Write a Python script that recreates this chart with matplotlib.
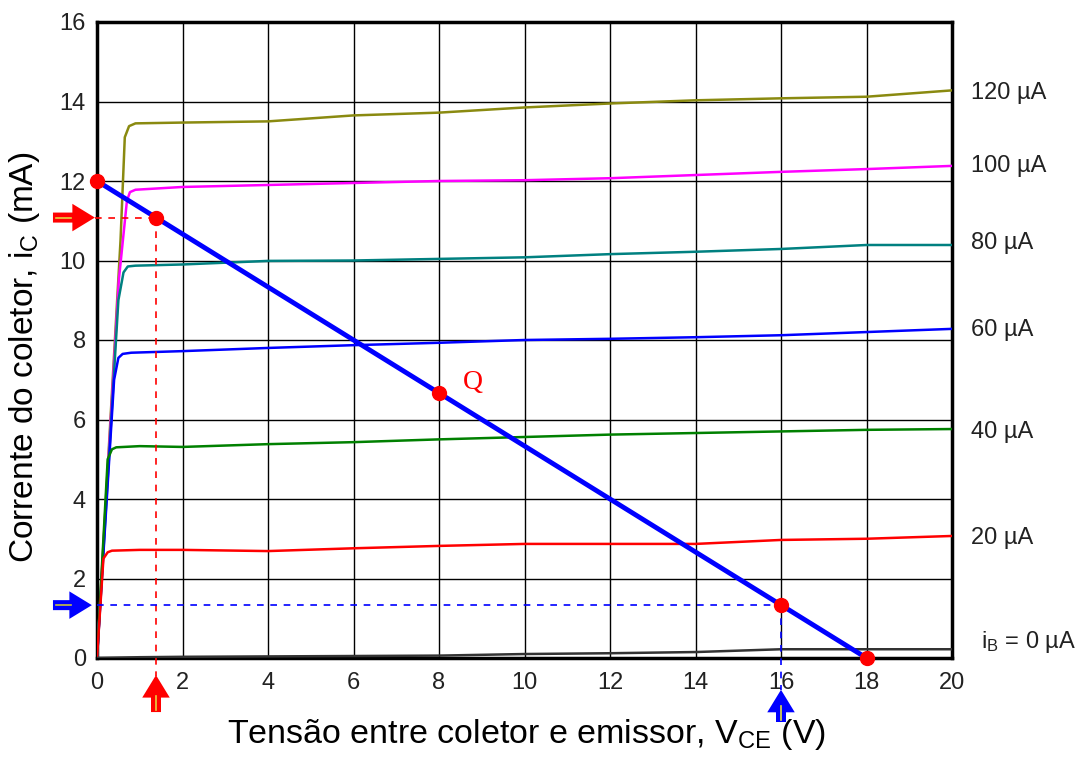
import matplotlib
matplotlib.use("Agg")
import matplotlib.pyplot as plt

plt.rcParams['font.family'] = ['Liberation Sans', 'DejaVu Sans']

# ---- data ----
vce_120 = [0, 0.55, 0.65, 0.75, 0.9, 2, 4, 6, 8, 10, 12, 14, 16, 18, 20]
ic_120 = [0, 10.5, 13.1, 13.38, 13.45, 13.47, 13.5, 13.65, 13.72, 13.85, 13.95, 14.03, 14.08, 14.12, 14.28]
vce_100 = [0, 0.51, 0.7, 0.77, 0.9, 2, 4, 6, 8, 10, 12, 14, 16, 18, 20]
ic_100 = [0, 9.5, 11.5, 11.72, 11.78, 11.85, 11.9, 11.95, 12.0, 12.02, 12.07, 12.15, 12.23, 12.3, 12.38]
vce_80 = [0, 0.5, 0.62, 0.72, 0.9, 2, 4, 6, 8, 10, 12, 14, 16, 18, 20]
ic_80 = [0, 9.0, 9.7, 9.85, 9.87, 9.9, 9.99, 10.0, 10.04, 10.08, 10.16, 10.22, 10.29, 10.39, 10.39]
vce_60 = [0, 0.4, 0.5, 0.6, 0.8, 2, 4, 6, 8, 10, 12, 14, 16, 18, 20]
ic_60 = [0, 7.0, 7.55, 7.65, 7.68, 7.72, 7.8, 7.87, 7.93, 8.0, 8.03, 8.07, 8.12, 8.2, 8.28]
vce_40 = [0, 0.25, 0.35, 0.45, 1, 2, 4, 6, 8, 10, 12, 14, 16, 18, 20]
ic_40 = [0, 5.0, 5.25, 5.3, 5.33, 5.31, 5.38, 5.43, 5.5, 5.56, 5.62, 5.66, 5.7, 5.74, 5.76]
vce_20 = [0, 0.15, 0.25, 0.35, 1, 2, 4, 6, 8, 10, 12, 14, 16, 18, 20]
ic_20 = [0, 2.5, 2.66, 2.7, 2.72, 2.72, 2.69, 2.76, 2.82, 2.87, 2.87, 2.87, 2.97, 3.0, 3.07]
vce_0 = [0, 1, 2, 4, 6, 8, 10, 12, 14, 16, 18, 20]
ic_0 = [0, 0.02, 0.03, 0.04, 0.05, 0.06, 0.1, 0.12, 0.15, 0.22, 0.22, 0.22]

curve_labels = ['120 µA', '100 µA', '80 µA', '60 µA', '40 µA', '20 µA', '$\\mathregular{i_B}$ = 0 µA']
label_y = [14.21, 12.38, 10.44, 8.25, 5.69, 3.02, 0.40]
label_x = [20.45, 20.45, 20.45, 20.45, 20.45, 20.45, 20.67]

# load line
load_v = [0, 18]
load_i = [12, 0]
pts_v = [0, 1.38, 8, 16, 18]
pts_i = [12, 11.08, 6.67, 1.33, 0]
q_point = (8, 6.67)

xticks = [0, 2, 4, 6, 8, 10, 12, 14, 16, 18, 20]
yticks = [0, 2, 4, 6, 8, 10, 12, 14, 16]

fig = plt.figure(figsize=(10.85, 7.6), dpi=100)
ax = fig.add_axes([97/1085, 1-658/760, (952-97)/1085, (658-22)/760])
ax.set_xlim(0, 20)
ax.set_ylim(0, 16)
ax.set_xticks(xticks)
ax.set_yticks(yticks)
ax.grid(True, color='black', lw=1.0)
ax.set_axisbelow(True)
for s in ax.spines.values():
    s.set_linewidth(2.5)
ax.tick_params(length=0, labelsize=17, pad=10, colors='#222222')
ax.tick_params(axis='y', pad=8)

colors = ['#8a8a10', '#ff00ff', '#008080', '#0000ff', '#008000', '#ff0000', '#333333']
series = [(vce_120, ic_120), (vce_100, ic_100), (vce_80, ic_80), (vce_60, ic_60),
          (vce_40, ic_40), (vce_20, ic_20), (vce_0, ic_0)]
for (v, i), c in zip(series, colors):
    ax.plot(v, i, color=c, lw=1.8, zorder=3)

for lab, x, y in zip(curve_labels, label_x, label_y):
    ax.text(x, y, lab, fontsize=17, va='center', ha='left',
            clip_on=False, color='#222222')

# dashed helper lines
ax.plot([-0.05, pts_v[1]], [pts_i[1], pts_i[1]], color='#ff0000', ls=(0, (4, 4)), lw=1.2, zorder=4, clip_on=False)
ax.plot([pts_v[1], pts_v[1]], [pts_i[1], -0.45], color='#ff0000', ls=(0, (4, 4)), lw=1.2, zorder=4, clip_on=False)
ax.plot([0, pts_v[3]], [pts_i[3], pts_i[3]], color='#0000ff', ls=(0, (4, 4)), lw=1.2, zorder=4, clip_on=False)
ax.plot([pts_v[3], pts_v[3]], [pts_i[3], -0.8], color='#0000ff', ls=(0, (4, 4)), lw=1.2, zorder=4, clip_on=False)

ax.plot(load_v, load_i, color='#0000ff', lw=3.5, zorder=5)
ax.plot(pts_v, pts_i, 'o', color='#ff0000', ms=10, zorder=6, clip_on=False)
ax.text(q_point[0] + 0.55, q_point[1] + 0.25, 'Q', color='#ff0000', fontsize=20,
        family='Liberation Serif', va='center', ha='left')

# arrows
def arrow(tail, tip, color):
    ax.annotate('', xy=tip, xytext=tail, xycoords='data', textcoords='data',
                arrowprops=dict(arrowstyle='simple,head_length=0.9,head_width=1.1,tail_width=0.4',
                                color=color, lw=0, shrinkA=0, shrinkB=0, mutation_scale=18),
                annotation_clip=False, zorder=7)

arrow((-1.03, 11.08), (-0.05, 11.08), '#ff0000')
arrow((-1.03, 1.33), (-0.12, 1.33), '#0000ff')
arrow((1.38, -1.36), (1.38, -0.43), '#ff0000')
arrow((16, -1.61), (16, -0.8), '#0000ff')
# yellow centre strokes
ax.plot([-0.95, -0.6], [11.08, 11.08], color='#e8d040', lw=1.2, zorder=8, clip_on=False)
ax.plot([-0.95, -0.6], [1.33, 1.33], color='#c8c040', lw=1.2, zorder=8, clip_on=False)
ax.plot([1.38, 1.38], [-1.3, -0.95], color='#e8d040', lw=1.2, zorder=8, clip_on=False)
ax.plot([16, 16], [-1.55, -1.2], color='#e8e040', lw=1.2, zorder=8, clip_on=False)

ax.set_xlabel('Tensão entre coletor e emissor, $\\mathregular{V_{CE}}$ (V)', fontsize=24.5)
ax.set_ylabel('Corrente do coletor, $\\mathregular{i_C}$ (mA)', fontsize=24)
ax.xaxis.set_label_coords(0.502, -0.093)
ax.yaxis.set_label_coords(-0.064, 0.473)

fig.savefig('out.png', dpi=100)
